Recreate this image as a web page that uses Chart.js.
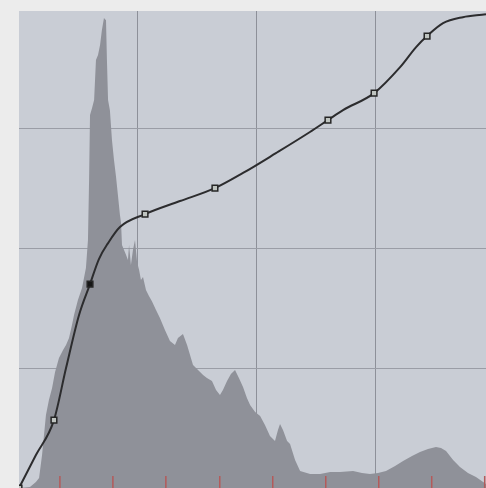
<!DOCTYPE html>
<html>
<head>
<meta charset="utf-8">
<script src="https://cdn.jsdelivr.net/npm/chart.js@4/dist/chart.umd.min.js"></script>
<style>
  html, body { margin: 0; padding: 0; background: #ececec; }
  #wrap { width: 486px; height: 488px; position: relative; }
</style>
</head>
<body>
<div id="wrap"><canvas id="curves"></canvas></div>
<script>
// histogram outline (input level, count scaled to 0-255)
const histX = [0, 5.9, 9.1, 10.8, 12.4, 14.5, 16.1, 17.8, 19.4, 21.5, 23.7, 25.3, 26.9, 28.5, 29.6, 31.7, 33.9, 36, 37.1, 37.7, 38.2, 39.3, 40.4, 41.4, 42.5, 43.6, 44.6, 45.7, 46.8, 47.3, 47.9, 48.9, 50, 51.1, 52.2, 53.2, 54.3, 54.9, 55.4, 56.5, 57.6, 58.6, 59.2, 60.2, 61.3, 62.4, 63.5, 64.6, 65.6, 66.7, 68.3, 69.9, 71.5, 73.7, 75.8, 78.5, 81.2, 83.9, 85.5, 88.2, 90.4, 93.6, 96.3, 99, 101.1, 103.8, 106, 108.1, 109.7, 111.9, 114, 116.2, 118.3, 120.5, 122.6, 124.3, 127, 129.7, 132.3, 135, 137.7, 139.3, 140.4, 142, 144.2, 145.8, 148.5, 151.2, 156.6, 162, 167.4, 172.7, 179.7, 184.5, 188.8, 193.1, 197.4, 202.3, 206.6, 211.4, 215.7, 220, 224.3, 227, 229.7, 233.5, 237.2, 241.5, 245.8, 251.2];
const histY = [0, 0.5, 3.2, 5.3, 17.6, 39, 47.1, 53.4, 62, 69.5, 73.8, 76.4, 80.2, 87.1, 92.5, 100.5, 106.9, 117.6, 132.6, 164.6, 199.4, 203.1, 207.4, 228.8, 231.5, 236.8, 244.8, 251.2, 250.1, 228.8, 207.4, 202, 186, 175.3, 166.2, 156.6, 145.9, 141.6, 129.9, 127.2, 124.5, 121.9, 129.9, 119.2, 127.2, 132.6, 120.8, 116.5, 111.2, 112.8, 105.8, 102.6, 99.9, 95.1, 90.9, 84.4, 78.6, 76.4, 80.2, 82.3, 76.4, 65.7, 63.1, 60.4, 58.8, 57.2, 52.4, 49.7, 52.4, 57.2, 60.9, 63.1, 58.8, 54, 48.1, 44.4, 40.6, 38.5, 33.7, 27.8, 25.1, 31, 34.2, 31, 25.1, 23.5, 15, 9.1, 7.5, 7.5, 8.6, 8.6, 9.1, 8, 7.5, 8, 9.1, 11.8, 14.4, 17.1, 19.2, 20.8, 21.9, 21.4, 19.8, 15, 11.2, 8, 5.9, 2.1];

// tone curve as traced
const curveX = [0, 9.1, 18.8, 25.3, 32.3, 38.2, 43.0, 47.9, 54.3, 67.8, 86.6, 105.4, 120.5, 138.2, 156.5, 166.2, 174.3, 191.0, 205.0, 213.6, 219.5, 228.1, 238.8, 251.2, 255];
const curveY = [0, 17.6, 36.3, 64.1, 92.5, 109.0, 122.4, 130.9, 139.5, 146.4, 153.4, 160.3, 168.4, 179.0, 190.3, 196.7, 202.0, 211.1, 225.0, 235.7, 241.6, 248.5, 251.7, 253.3, 254];

// control points (anchors) on the curve
const anchorX = [0, 18.8, 38.2, 67.8, 105.4, 166.2, 191.0, 219.5];
const anchorY = [0, 36.3, 109.0, 146.4, 160.3, 196.7, 211.1, 241.6];
const activeAnchor = 2;

// red marks along the bottom edge
const markX = [22, 50.5, 79, 108, 136.5, 165, 193.5, 222, 250.5];

const gridTicks = [64, 128, 192];

const zip = (xs, ys) => xs.map((x, i) => ({ x: x, y: ys[i] }));

const plotBg = {
    id: 'plotBg',
    beforeDraw(chart) {
        const a = chart.chartArea;
        const ctx = chart.ctx;
        ctx.save();
        ctx.fillStyle = '#c9cdd5';
        ctx.fillRect(a.left, a.top, a.right - a.left, a.bottom - a.top);
        ctx.restore();
    }
};

const ctx = document.getElementById('curves').getContext('2d');
new Chart(ctx, {
    type: 'scatter',
    data: {
        datasets: [
            {
                label: 'anchors',
                data: zip(anchorX, anchorY),
                showLine: false,
                pointStyle: 'rect',
                pointRadius: 4,
                borderWidth: 1.5,
                borderColor: '#262626',
                backgroundColor: anchorX.map((_, i) => i === activeAnchor ? '#161616' : '#bfc4c0'),
                order: 1
            },
            {
                label: 'curve',
                data: zip(curveX, curveY),
                showLine: true,
                borderColor: '#2c2c2e',
                borderWidth: 2,
                pointRadius: 0,
                cubicInterpolationMode: 'monotone',
                fill: false,
                order: 2
            },
            {
                label: 'marks',
                data: markX.map(x => ({ x: x, y: 3.2 })),
                showLine: false,
                pointStyle: 'line',
                rotation: 90,
                pointRadius: 6,
                borderWidth: 1.5,
                borderColor: '#b45a5a',
                order: 3
            },
            {
                label: 'histogram',
                data: zip(histX, histY),
                showLine: true,
                borderWidth: 0,
                borderColor: 'rgba(0,0,0,0)',
                backgroundColor: '#8f9199',
                pointRadius: 0,
                tension: 0,
                fill: 'origin',
                order: 4
            }
        ]
    },
    options: {
        responsive: true,
        maintainAspectRatio: false,
        animation: false,
        layout: { autoPadding: false, padding: { left: 19, top: 11, right: 0, bottom: 0 } },
        plugins: {
            legend: { display: false },
            tooltip: { enabled: false }
        },
        scales: {
            x: {
                type: 'linear',
                min: 0,
                max: 251.2,
                afterBuildTicks: s => { s.ticks = gridTicks.map(v => ({ value: v })); },
                ticks: { display: false },
                border: { display: false },
                grid: { color: '#8d9099', lineWidth: 1, drawTicks: false }
            },
            y: {
                type: 'linear',
                min: 0,
                max: 255,
                afterBuildTicks: s => { s.ticks = gridTicks.map(v => ({ value: v })); },
                ticks: { display: false },
                border: { display: false },
                grid: { color: '#9a9da6', lineWidth: 1, drawTicks: false }
            }
        }
    },
    plugins: [plotBg]
});
</script>
</body>
</html>
